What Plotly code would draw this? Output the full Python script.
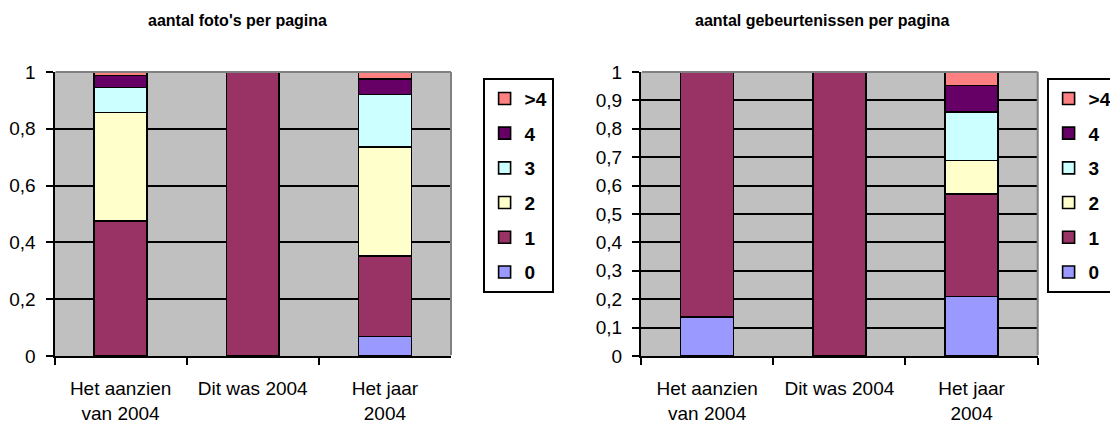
import plotly.graph_objects as go

categories = ["Het aanzien<br>van 2004", "Dit was 2004", "Het jaar<br>2004"]
series_names = ["0", "1", "2", "3", "4", ">4"]
series_colors = ["#9999FF", "#993366", "#FFFFCC", "#CCFFFF", "#660066", "#FF8080"]

# aantal foto's per pagina
foto_0 = [0.0, 0.0, 0.068]
foto_1 = [0.475, 1.0, 0.285]
foto_2 = [0.382, 0.0, 0.382]
foto_3 = [0.088, 0.0, 0.186]
foto_4 = [0.043, 0.0, 0.055]
foto_gt4 = [0.012, 0.0, 0.024]

# aantal gebeurtenissen per pagina
geb_0 = [0.138, 0.0, 0.210]
geb_1 = [0.862, 1.0, 0.360]
geb_2 = [0.0, 0.0, 0.118]
geb_3 = [0.0, 0.0, 0.172]
geb_4 = [0.0, 0.0, 0.092]
geb_gt4 = [0.0, 0.0, 0.048]

title_left = "aantal foto's per pagina"
title_right = "aantal gebeurtenissen per pagina"

foto_series = [foto_0, foto_1, foto_2, foto_3, foto_4, foto_gt4]
geb_series = [geb_0, geb_1, geb_2, geb_3, geb_4, geb_gt4]

FONT = "Liberation Sans, Arial, sans-serif"

# page body has an 8px default margin: figure occupies screen px 8..1118 / 8..426
W, H, OFF = 1110, 418, 8
def px(x):
    return (x - OFF) / W
def py(y):
    return (426 - y) / H

fig = go.Figure()
n = len(series_names)
for i, (name, col) in enumerate(zip(series_names, series_colors)):
    fig.add_trace(go.Bar(
        x=categories, y=foto_series[i], name=name,
        marker=dict(color=col, line=dict(color="black", width=1.6)),
        xaxis="x", yaxis="y", legend="legend", legendgroup="L" + name,
        legendrank=n - i, hoverinfo="skip",
    ))
for i, (name, col) in enumerate(zip(series_names, series_colors)):
    fig.add_trace(go.Bar(
        x=categories, y=geb_series[i], name=name,
        marker=dict(color=col, line=dict(color="black", width=1.6)),
        xaxis="x2", yaxis="y2", legend="legend2", legendgroup="R" + name,
        legendrank=n - i, hoverinfo="skip",
    ))

ydom = [py(356), py(72)]
xaxis_common = dict(
    showline=True, linecolor="black", linewidth=2,
    ticks="outside", tickson="boundaries", ticklen=7, tickwidth=2, tickcolor="black",
    showgrid=False, tickfont=dict(family=FONT, size=19, color="black"),
    ticklabelstandoff=14, fixedrange=True,
)
yaxis_common = dict(
    range=[0, 1], showline=True, linecolor="black", linewidth=2,
    ticks="outside", ticklen=7, tickwidth=2, tickcolor="black",
    showgrid=True, gridcolor="black", gridwidth=1.6, zeroline=False,
    tickfont=dict(family=FONT, size=19, color="black"),
    ticklabelstandoff=6, domain=ydom, fixedrange=True,
)

legend_common = dict(
    bgcolor="white", bordercolor="black", borderwidth=1.6,
    font=dict(family=FONT, size=19, color="black", weight="bold"),
    traceorder="grouped", tracegroupgap=7,
    xanchor="left", yanchor="top", y=py(78),
)

gray = dict(color="#808080", width=2)
fig.update_layout(
    width=W, height=H,
    margin=dict(l=0, r=0, t=0, b=0, autoexpand=False),
    paper_bgcolor="white", plot_bgcolor="#C0C0C0",
    barmode="stack", bargap=0.6,
    separators=", ",
    showlegend=True,
    xaxis=dict(domain=[px(54.5), px(451)], anchor="y", **xaxis_common),
    yaxis=dict(anchor="x", dtick=0.2, **yaxis_common),
    xaxis2=dict(domain=[px(641), px(1037.7)], anchor="y2", **xaxis_common),
    yaxis2=dict(anchor="x2", dtick=0.1, **yaxis_common),
    legend=dict(x=px(483), **legend_common),
    legend2=dict(x=px(1047), **legend_common),
    annotations=[
        dict(text="<b>" + title_left + "</b>", x=px(237), y=py(20),
             xref="paper", yref="paper", xanchor="center", yanchor="middle",
             showarrow=False, font=dict(family=FONT, size=16, color="black")),
        dict(text="<b>" + title_right + "</b>", x=px(822), y=py(20),
             xref="paper", yref="paper", xanchor="center", yanchor="middle",
             showarrow=False, font=dict(family=FONT, size=16, color="black")),
    ],
    shapes=[
        dict(type="line", xref="paper", yref="paper", x0=px(55.5), x1=px(451), y0=py(72), y1=py(72),
             line=gray, layer="above"),
        dict(type="line", xref="paper", yref="paper", x0=px(451), x1=px(451), y0=py(355), y1=py(72),
             line=gray, layer="above"),
        dict(type="line", xref="paper", yref="paper", x0=px(642), x1=px(1037.7), y0=py(72), y1=py(72),
             line=gray, layer="above"),
        dict(type="line", xref="paper", yref="paper", x0=px(1037.7), x1=px(1037.7), y0=py(355), y1=py(72),
             line=gray, layer="above"),
    ],
)

fig.write_html("out.html")
